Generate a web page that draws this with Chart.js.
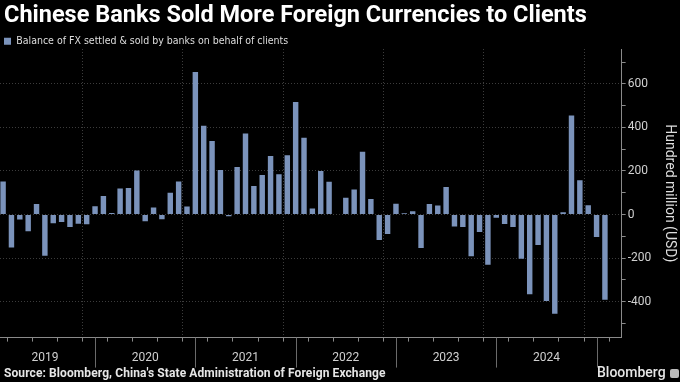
<!DOCTYPE html>
<html>
<head>
<meta charset="utf-8">
<script src="https://cdn.jsdelivr.net/npm/chart.js@4.4.0/dist/chart.umd.min.js"></script>
<style>
  html, body { margin: 0; padding: 0; background: #000; }
  #wrap { position: relative; width: 680px; height: 382px; overflow: hidden; background: #000; }
  #myChart { position: absolute; left: 0; top: 0; }
  #title { position: absolute; left: 4px; top: 0px; color: #fff; font: bold 23.5px Roboto, 'DejaVu Sans', sans-serif; white-space: nowrap; }
  #source { position: absolute; left: 4px; top: 366px; color: #e6e6e6; font: bold 12px Roboto, 'DejaVu Sans', sans-serif; letter-spacing: 0.1px; white-space: nowrap; }
  #brand { position: absolute; left: 597px; top: 364px; color: #e6e6e6; font: 500 14px Roboto, 'DejaVu Sans', sans-serif; white-space: nowrap; }
  #brand span { display: inline-block; width: 9px; height: 9px; margin-left: 4px; background: #bbb; border-radius: 2px; vertical-align: -1px; }
</style>
</head>
<body>
<div id="wrap">
  <canvas id="myChart" width="680" height="382"></canvas>
  <div id="title">Chinese Banks Sold More Foreign Currencies to Clients</div>
  <div id="source">Source: Bloomberg, China's State Administration of Foreign Exchange</div>
  <div id="brand">Bloomberg<span></span></div>
</div>
<script>
// mois (données de fin de mois)
const months = [
  '2019-01','2019-02','2019-03','2019-04','2019-05','2019-06','2019-07','2019-08','2019-09','2019-10','2019-11','2019-12',
  '2020-01','2020-02','2020-03','2020-04','2020-05','2020-06','2020-07','2020-08','2020-09','2020-10','2020-11','2020-12',
  '2021-01','2021-02','2021-03','2021-04','2021-05','2021-06','2021-07','2021-08','2021-09','2021-10','2021-11','2021-12',
  '2022-01','2022-02','2022-03','2022-04','2022-05','2022-06','2022-07','2022-08','2022-09','2022-10','2022-11','2022-12',
  '2023-01','2023-02','2023-03','2023-04','2023-05','2023-06','2023-07','2023-08','2023-09','2023-10','2023-11','2023-12',
  '2024-01','2024-02','2024-03','2024-04','2024-05','2024-06','2024-07','2024-08','2024-09','2024-10','2024-11','2024-12',
  '2025-01'
];

// solde en centaines de millions USD
const fxBalance = [
  152, -151, -23, -77, 48, -189, -40, -34, -57, -42, -45, 38,
  85, 7, 120, 122, 202, -31, 32, -22, 100, 152, 37, 654,
  408, 338, 205, -8, 218, 372, 131, 182, 269, 185, 272, 517,
  352, 28, 200, 151, 3, 77, 115, 288, 71, -117, -89, 49,
  6, 15, -154, 48, 42, 126, -55, -57, -192, -80, -231, -15,
  -43, -57, -203, -366, -140, -397, -455, 11, 455, 157, 43, -103,
  -391
];

const yearLabels = ['2019', '2020', '2021', '2022', '2023', '2024'];

const seriesLabel = 'Balance of FX settled & sold by banks on behalf of clients';
const barColor = '#7b93bb';
const narrow = "'Liberation Sans Narrow', 'DejaVu Sans Condensed', Roboto, sans-serif";

// position en mois depuis le 1er janvier 2019 (fin du mois)
function monthPos(m) {
  const parts = m.split('-').map(Number);
  return (parts[0] - 2019) * 12 + parts[1];
}

// traits de séparation des années sous l'axe
const yearDividers = {
  id: 'yearDividers',
  afterDraw(chart) {
    const ctx = chart.ctx;
    const x = chart.scales.x;
    const bottom = chart.chartArea.bottom;
    ctx.save();
    ctx.strokeStyle = '#6a6a6a';
    ctx.lineWidth = 1;
    for (let v = 12; v <= 72; v += 12) {
      const px = Math.round(x.getPixelForValue(v)) + 0.5;
      ctx.beginPath();
      ctx.moveTo(px, bottom);
      ctx.lineTo(px, bottom + 30);
      ctx.stroke();
    }
    ctx.restore();
  }
};

const ctx = document.getElementById('myChart');
const data = {
  datasets: [{
    label: seriesLabel,
    data: months.map((m, i) => ({ x: monthPos(m), y: fxBalance[i] })),
    backgroundColor: barColor,
    borderWidth: 0,
    barPercentage: 0.65,
    categoryPercentage: 1
  }]
};

const options = {
  responsive: false,
  animation: false,
  maintainAspectRatio: false,
  layout: { padding: { top: 32, bottom: 8, left: 0, right: 0 } },
  plugins: {
    title: { display: false },
    tooltip: { enabled: false },
    legend: {
      display: true,
      align: 'start',
      maxHeight: 17,
      labels: {
        color: '#dedede',
        boxWidth: 7,
        boxHeight: 7,
        padding: 4,
        font: { family: narrow, size: 10.5 }
      }
    }
  },
  scales: {
    x: {
      type: 'linear',
      min: 0.63,
      max: 75,
      offset: false,
      ticks: {
        stepSize: 3,
        includeBounds: false,
        autoSkip: false,
        maxRotation: 0,
        padding: 9,
        color: '#d0d0d0',
        font: { family: "Roboto, sans-serif", size: 12 },
        callback: function(v) {
          return v % 12 === 6 ? yearLabels[(v - 6) / 12] : '';
        }
      },
      grid: {
        color: function(c) { return c.tick && c.tick.value % 12 === 0 ? '#3c3c3c' : 'rgba(0,0,0,0)'; },
        tickColor: '#8a8a8a',
        tickLength: 4
      },
      border: { display: true, color: '#8a8a8a', dash: [1, 2] }
    },
    y: {
      position: 'right',
      min: -565,
      max: 760,
      ticks: {
        stepSize: 100,
        includeBounds: false,
        autoSkip: false,
        padding: 2,
        color: '#d0d0d0',
        font: { family: "Roboto, sans-serif", size: 12 },
        callback: function(v) { return v % 200 === 0 ? v : ''; }
      },
      grid: {
        color: function(c) { return c.tick && c.tick.value % 200 === 0 ? '#3c3c3c' : 'rgba(0,0,0,0)'; },
        tickColor: '#8a8a8a',
        tickLength: 4
      },
      border: { display: true, color: '#8a8a8a', dash: [1, 2] },
      title: {
        display: true,
        text: 'Hundred million (USD)',
        color: '#dedede',
        font: { family: "Roboto, sans-serif", size: 14 },
        padding: { top: 2, bottom: 8 }
      }
    }
  }
};

new Chart(ctx, {
  type: 'bar',
  data: data,
  options: options,
  plugins: [yearDividers]
});
</script>
</body>
</html>
